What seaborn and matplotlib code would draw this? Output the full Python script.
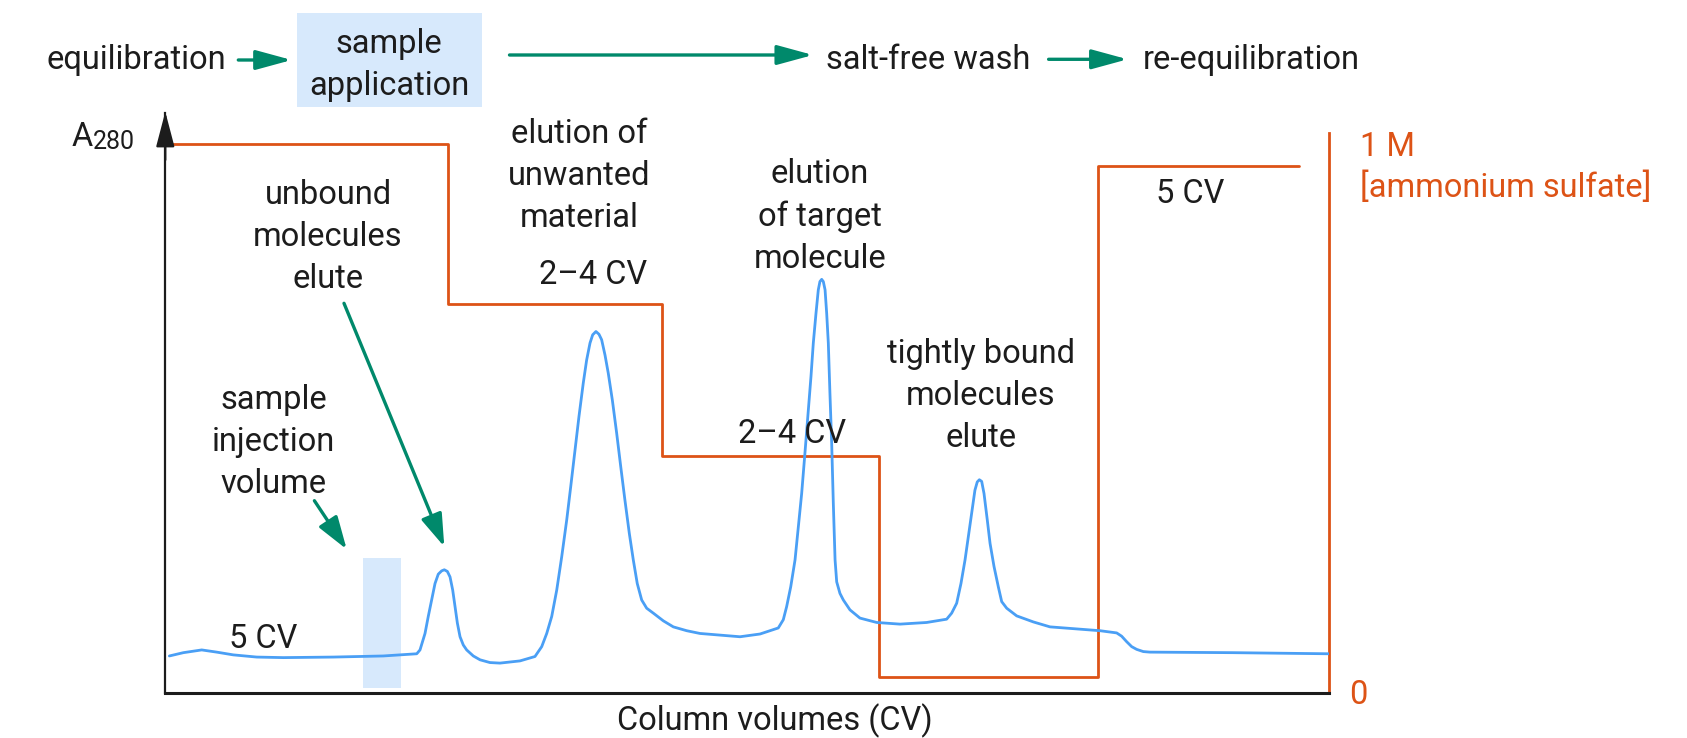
import matplotlib
matplotlib.use("Agg")
import matplotlib.pyplot as plt
import seaborn as sns
from matplotlib.patches import Rectangle

# A280 trace, x in % of the run, y on the same scale as the salt (1 M = 1.0)
trace_x = [0.35, 1.55, 3.13, 4.42, 5.84, 7.86, 10.14, 14.44, 18.73, 21.61,
           21.89, 22.32, 22.60, 22.89, 23.18, 23.46, 23.75, 23.98, 24.24, 24.47,
           24.70, 24.90, 25.10, 25.33, 25.61, 25.90, 26.47, 27.05, 27.90, 28.76,
           30.48, 31.77, 32.35, 32.78, 33.21, 33.64, 34.07, 34.50, 34.84, 35.21,
           35.55, 35.92, 36.21, 36.50, 36.73, 37.01, 37.27, 37.50, 37.79, 38.07,
           38.42, 38.79, 39.14, 39.50, 39.88, 40.22, 40.56, 40.94, 41.37, 41.94,
           42.80, 43.66, 44.81, 45.95, 49.39, 51.11, 52.68, 53.11, 53.40, 53.75,
           54.12, 54.40, 54.69, 54.98, 55.26, 55.49, 55.69, 55.92, 56.12, 56.26,
           56.41, 56.55, 56.70, 56.84, 56.98, 57.12, 57.27, 57.41, 57.56, 57.70,
           57.98, 58.27, 58.84, 59.70, 61.14, 63.14, 65.43, 67.15, 67.58, 68.01,
           68.38, 68.73, 69.01, 69.30, 69.58, 69.78, 69.96, 70.16, 70.36, 70.64,
           70.88, 71.22, 71.59, 71.88, 72.31, 73.17, 74.60, 76.03, 80.33, 81.76,
           82.19, 82.62, 83.05, 83.48, 84.05, 84.62, 91.78, 99.95]
trace_y = [0.068, 0.074, 0.079, 0.075, 0.070, 0.066, 0.065, 0.066, 0.068, 0.072,
           0.079, 0.109, 0.140, 0.170, 0.200, 0.217, 0.223, 0.225, 0.222, 0.212,
           0.188, 0.158, 0.128, 0.103, 0.088, 0.079, 0.068, 0.061, 0.056, 0.055,
           0.059, 0.067, 0.085, 0.109, 0.140, 0.188, 0.249, 0.316, 0.376, 0.443,
           0.504, 0.565, 0.607, 0.638, 0.653, 0.659, 0.654, 0.644, 0.616, 0.583,
           0.534, 0.474, 0.413, 0.352, 0.291, 0.243, 0.200, 0.170, 0.155, 0.146,
           0.132, 0.121, 0.114, 0.109, 0.103, 0.108, 0.119, 0.134, 0.158, 0.194,
           0.243, 0.303, 0.364, 0.440, 0.516, 0.577, 0.638, 0.692, 0.735, 0.750,
           0.754, 0.750, 0.735, 0.692, 0.638, 0.546, 0.455, 0.346, 0.243, 0.203,
           0.182, 0.170, 0.152, 0.137, 0.129, 0.126, 0.129, 0.135, 0.146, 0.164,
           0.200, 0.243, 0.285, 0.328, 0.370, 0.385, 0.389, 0.386, 0.364, 0.316,
           0.273, 0.231, 0.194, 0.167, 0.155, 0.141, 0.130, 0.121, 0.114, 0.110,
           0.104, 0.094, 0.085, 0.080, 0.076, 0.075, 0.074, 0.072]

# ammonium sulfate step gradient (M)
salt_x = [0, 24.27, 42.71, 61.34, 80.18, 97.39]
salt_m = [1.0, 0.709, 0.433, 0.029, 0.961, 0.961]

# sample injection volume
inj_start, inj_end, inj_top = 17.02, 20.23, 0.247

stages = ["equilibration", "sample\napplication", "salt-free wash", "re-equilibration"]

BLUE = "#4a9ff5"
ORANGE = "#dd5316"
GREEN = "#00896b"
PALE = "#d7e9fc"
INK = "#1c1c1c"
FS = 23.5
ASC = 0.73 * FS * 100 / 72
LS = 1.4

sns.set_theme(style="white")
plt.rcParams["font.family"] = ["Roboto", "DejaVu Sans"]
plt.rcParams["text.color"] = INK

fig = plt.figure(figsize=(16.87, 7.38), dpi=100)
ax = fig.add_axes([0.09798, 0.06057, 0.68975, 0.7863])
ax2 = ax.twinx()

sns.lineplot(x=salt_x, y=salt_m, ax=ax2, color=ORANGE, lw=2.0, drawstyle="steps-post")
sns.lineplot(x=trace_x, y=trace_y, ax=ax, color=BLUE, lw=2.0)
ax.add_patch(Rectangle((inj_start, 0.01), inj_end - inj_start, inj_top - 0.01,
                       color=PALE, lw=0, zorder=0))

for a in (ax, ax2):
    a.set_xlim(0, 100)
    a.set_ylim(0, 1.057)
    a.set_xticks([])
    a.set_yticks([])
    a.set_xlabel("")
    a.set_ylabel("")
    for s in a.spines.values():
        s.set_visible(False)
ax.set_zorder(ax2.get_zorder() + 1)
ax.patch.set_visible(False)
ax.spines["left"].set_visible(True)
ax.spines["left"].set_color(INK)
ax.spines["left"].set_linewidth(1.6)
ax.spines["bottom"].set_visible(True)
ax.spines["bottom"].set_color(INK)
ax.spines["bottom"].set_linewidth(2.2)
ax2.spines["right"].set_visible(True)
ax2.spines["right"].set_color(ORANGE)
ax2.spines["right"].set_linewidth(2.0)
ax2.spines["right"].set_bounds(0, 1.021)

# overlay in pixel coordinates for labels and arrows
ov = fig.add_axes([0, 0, 1, 1], zorder=10)
ov.set_xlim(0, 1687)
ov.set_ylim(738, 0)
ov.axis("off")


def label(x, base, s, color=INK, ha="center", size=FS):
    ov.text(x, base - ASC, s, ha=ha, va="top", fontsize=size, color=color,
            linespacing=LS)


def arrow(x0, y0, x1, y1, hl=1.1, hw=0.3, color=GREEN, lw=2.4, ms=20):
    ov.annotate("", xy=(x1, y1), xytext=(x0, y0),
                arrowprops=dict(arrowstyle=f"-|>,head_length={hl},head_width={hw}",
                                mutation_scale=ms, color=color, lw=lw,
                                shrinkA=0, shrinkB=0))


# process stages along the top
ov.add_patch(Rectangle((296.7, 13.3), 185, 93.4, color=PALE, lw=0))
label(46.7, 68.3, stages[0], ha="left")
label(389, 51.7, stages[1])
label(826, 68.3, stages[2], ha="left")
label(1142.6, 68.3, stages[3], ha="left")
arrow(238.3, 60, 291.7, 60)
arrow(509.5, 55, 813, 55)
arrow(1048.6, 59.3, 1127.6, 59.3)

# y-axis arrowhead and labels
arrow(165.3, 160, 165.3, 111.7, hl=1.45, hw=0.38, color=INK, lw=1.6, ms=15)
label(71.7, 145, "A", ha="left")
label(92.5, 154, "280", ha="left", size=18)
label(1360, 155, "1 M", color=ORANGE, ha="left")
label(1360, 195, "[ammonium sulfate]", color=ORANGE, ha="left")
label(1349, 703.3, "0", color=ORANGE, ha="left")
label(775.3, 727.5, "Column volumes (CV)")

# annotations inside the plot
label(579, 141.7, "elution of\nunwanted\nmaterial")
label(820, 181.7, "elution\nof target\nmolecule")
label(328, 203.3, "unbound\nmolecules\nelute")
label(981, 361.7, "tightly bound\nmolecules\nelute")
label(273.7, 408.3, "sample\ninjection\nvolume")
label(593.5, 282.5, "2–4 CV")
label(792.5, 441.7, "2–4 CV")
label(263.3, 646.7, "5 CV")
label(1190.5, 201.7, "5 CV")
arrow(344, 303.3, 444.3, 546.7, hl=1.0, hw=0.33)
arrow(314.4, 500.7, 346.7, 549.3, hl=1.0, hw=0.33)

fig.savefig("out.png", dpi=100)
